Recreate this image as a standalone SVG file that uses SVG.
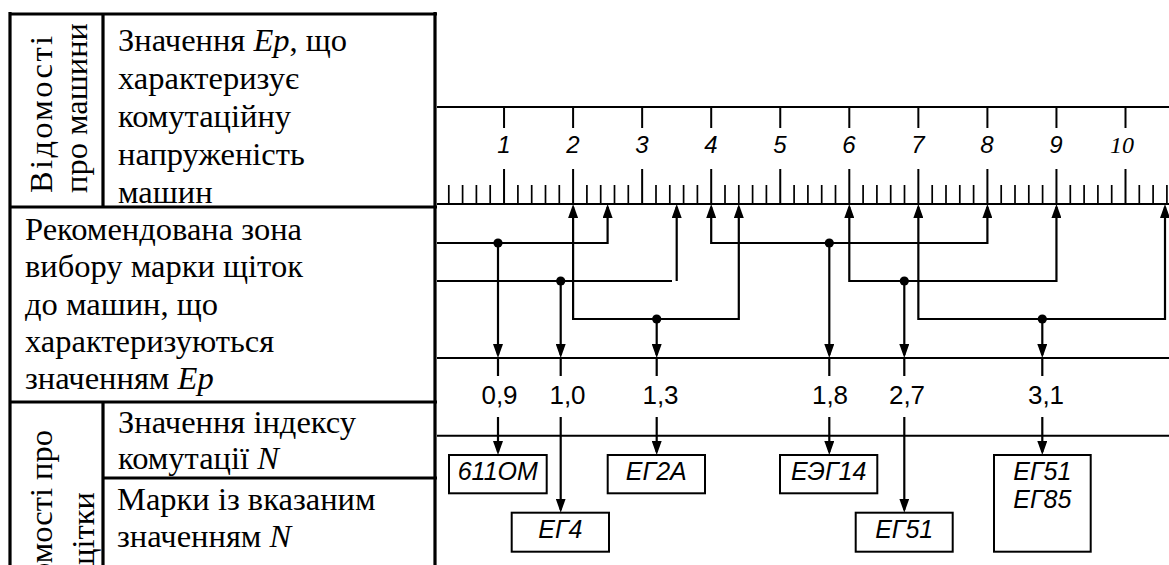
<svg xmlns="http://www.w3.org/2000/svg" width="1169" height="565" viewBox="0 0 1169 565">
<style>
.tb{fill:none;stroke:#000;stroke-width:3.2}
.ln{fill:none;stroke:#000;stroke-width:2}
.cn{fill:none;stroke:#000;stroke-width:2.2}
.ar{fill:none;stroke:#000;stroke-width:2.2;marker-end:url(#ah)}
.ar2{fill:none;stroke:#000;stroke-width:2.2;marker-start:url(#ah);marker-end:url(#ah)}
.bx{fill:#fff;stroke:#000;stroke-width:2}
.ser{font-family:"Liberation Serif","Times New Roman",serif;font-size:32.5px;fill:#000}
.it{font-style:italic}
.sc{font-family:"Liberation Sans",Arial,sans-serif;font-style:italic;font-size:24px;text-anchor:middle;fill:#000}
.val{font-family:"Liberation Sans",Arial,sans-serif;font-size:26px;text-anchor:middle;fill:#000}
.bt{font-family:"Liberation Sans",Arial,sans-serif;font-style:italic;font-size:25px;text-anchor:middle;fill:#000}
</style>
<defs>
<marker id="ah" markerUnits="userSpaceOnUse" viewBox="0 0 14 10" markerWidth="14" markerHeight="10" refX="11" refY="5" orient="auto-start-reverse">
<path d="M0,0 L14,5 L0,10 z" fill="#000"/>
</marker>
</defs>
<rect width="1169" height="565" fill="#fff"/>

<g id="table">
<path class="tb" d="M8.5,14 H437 M10,12 V565 M435,12 V565 M103,14 V207 M10,207 H437 M10,402 H437 M103,402 V565 M103,478 H437"/>
</g>

<g id="machine-info">
<text class="ser" transform="translate(52,193) rotate(-90)" textLength="157" lengthAdjust="spacing">Відомості</text>
<text class="ser" transform="translate(87,193) rotate(-90)">про машини</text>
<text class="ser" x="118" y="51">Значення <tspan class="it">Ер</tspan>, що</text>
<text class="ser" x="118" y="89">характеризує</text>
<text class="ser" x="118" y="127">комутаційну</text>
<text class="ser" x="118" y="165">напруженість</text>
<text class="ser" x="118" y="203">машин</text>
</g>

<g id="zone-info">
<text class="ser" x="25" y="240">Рекомендована зона</text>
<text class="ser" x="25" y="277.3">вибору марки щіток</text>
<text class="ser" x="25" y="314.6">до машин, що</text>
<text class="ser" x="25" y="352">характеризуються</text>
<text class="ser" x="25" y="389">значенням <tspan class="it">Ер</tspan></text>
</g>

<g id="brush-info">
<text class="ser" text-anchor="end" transform="translate(52,430) rotate(-90)">Відомості про</text>
<text class="ser" text-anchor="end" transform="translate(94,492) rotate(-90)">щітки</text>
<text class="ser" x="118" y="433">Значення індексу</text>
<text class="ser" x="118" y="469">комутації <tspan class="it">N</tspan></text>
<text class="ser" x="117" y="510">Марки із вказаним</text>
<text class="ser" x="117" y="546.5">значенням <tspan class="it">N</tspan></text>
</g>

<g id="scale">
<path class="ln" d="M437,107 H1169 M437,204 H1169"/>
<path class="ln" d="M504.05,107 V128 M573.1,107 V128 M642.15,107 V128 M711.2,107 V128 M780.25,107 V128 M849.3,107 V128 M918.35,107 V128 M987.4,107 V128 M1056.45,107 V128 M1125.5,107 V128 M504.05,169 V204 M573.1,169 V204 M642.15,169 V204 M711.2,169 V204 M780.25,169 V204 M849.3,169 V204 M918.35,169 V204 M987.4,169 V204 M1056.45,169 V204 M1125.5,169 V204"/>
<path fill="none" stroke="#000" stroke-width="1.7" d="M448.8,185V204 M462.6,185V204 M476.4,185V204 M490.2,185V204 M517.9,185V204 M531.7,185V204 M545.5,185V204 M559.3,185V204 M586.9,185V204 M600.7,185V204 M614.5,185V204 M628.3,185V204 M656,185V204 M669.8,185V204 M683.6,185V204 M697.4,185V204 M725,185V204 M738.8,185V204 M752.6,185V204 M766.4,185V204 M794.1,185V204 M807.9,185V204 M821.7,185V204 M835.5,185V204 M863.1,185V204 M876.9,185V204 M890.7,185V204 M904.5,185V204 M932.2,185V204 M946,185V204 M959.8,185V204 M973.6,185V204 M1001.2,185V204 M1015,185V204 M1028.8,185V204 M1042.6,185V204 M1070.3,185V204 M1084.1,185V204 M1097.9,185V204 M1111.7,185V204 M1139.3,185V204 M1153.1,185V204 M1166.9,185V204"/>
<text class="sc" x="504" y="153">1</text>
<text class="sc" x="573" y="153">2</text>
<text class="sc" x="642" y="153">3</text>
<text class="sc" x="711" y="153">4</text>
<text class="sc" x="780" y="153">5</text>
<text class="sc" x="849" y="153">6</text>
<text class="sc" x="918" y="153">7</text>
<text class="sc" x="987" y="153">8</text>
<text class="sc" x="1056" y="153">9</text>
<text class="sc" x="1122" y="153" style="font-family:'Liberation Serif','Times New Roman',serif;font-size:24px">10</text>
</g>

<g id="connectors">
<path class="ln" d="M437,358 H1169 M437,435.7 H1169"/>
<path class="ar" d="M437,243 H607.6 V207"/>
<path class="cn" d="M437,281 H672"/>
<path class="ar" d="M676.7,281 V207"/>
<path class="ar2" d="M573.1,207 V319 H738.8 V207"/>
<path class="ar2" d="M711.2,207 V243 H987.4 V207"/>
<path class="ar2" d="M849.3,207 V281 H1056.45 V207"/>
<path class="ar2" d="M918.35,207 V319 H1165 V207"/>
<path class="ar" d="M498,243 V355"/>
<path class="ar" d="M560.7,281 V355"/>
<path class="ar" d="M656.7,319 V355"/>
<path class="ar" d="M829.3,243 V355"/>
<path class="ar" d="M904.3,281 V355"/>
<path class="ar" d="M1042.3,319 V355"/>
<path class="cn" d="M498,358 V376 M560.7,358 V376 M656.7,358 V376 M829.3,358 V376 M904.3,358 V376 M1042.3,358 V376"/>
<path class="ar" d="M498,417 V452"/>
<path class="ar" d="M560.7,417 V509.7"/>
<path class="ar" d="M656.7,417 V452"/>
<path class="ar" d="M829.3,417 V452"/>
<path class="ar" d="M904.3,417 V509.7"/>
<path class="ar" d="M1042.3,417 V452"/>
<g fill="#000">
<circle cx="498" cy="243" r="4.6"/>
<circle cx="560.7" cy="281" r="4.6"/>
<circle cx="656.7" cy="319" r="4.6"/>
<circle cx="829.3" cy="243" r="4.6"/>
<circle cx="904.3" cy="281" r="4.6"/>
<circle cx="1042.3" cy="319" r="4.6"/>
</g>
</g>

<g id="values">
<text class="val" x="499.5" y="404">0,9</text>
<text class="val" x="567.5" y="404">1,0</text>
<text class="val" x="660.5" y="404">1,3</text>
<text class="val" x="830" y="404">1,8</text>
<text class="val" x="907" y="404">2,7</text>
<text class="val" x="1046" y="404">3,1</text>
</g>

<g id="box-611OM"><rect class="bx" x="449" y="455" width="97.7" height="38.3"/><text class="bt" x="497.8" y="480">611OM</text></g>
<g id="box-EG4"><rect class="bx" x="511.7" y="512.7" width="97.3" height="39"/><text class="bt" x="560.3" y="538">ЕГ4</text></g>
<g id="box-EG2A"><rect class="bx" x="607.7" y="455" width="97.3" height="38.3"/><text class="bt" x="656.3" y="480">ЕГ2А</text></g>
<g id="box-EEG14"><rect class="bx" x="780" y="455" width="97.3" height="38.3"/><text class="bt" x="828.6" y="480">ЕЭГ14</text></g>
<g id="box-EG51"><rect class="bx" x="855.7" y="512.7" width="97" height="39"/><text class="bt" x="904.2" y="538">ЕГ51</text></g>
<g id="box-EG51-EG85"><rect class="bx" x="994" y="455" width="96.7" height="96.7"/><text class="bt" x="1042.3" y="480">ЕГ51</text><text class="bt" x="1042.3" y="508.3">ЕГ85</text></g>
</svg>
